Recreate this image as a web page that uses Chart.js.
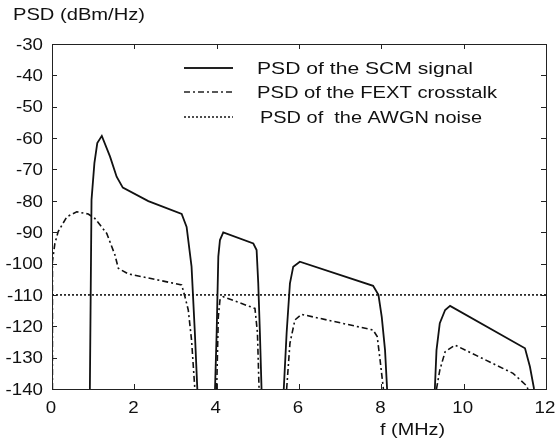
<!DOCTYPE html>
<html><head><meta charset="utf-8">
<script src="https://cdn.jsdelivr.net/npm/chart.js@4/dist/chart.umd.min.js"></script>
<style>html,body{margin:0;padding:0;background:#fff}#wrap{width:559px;height:446px}</style>
</head><body><div id="wrap"><canvas id="c"></canvas></div>
<script>
// Frequency (MHz) and PSD (dBm/Hz); null separates the bands
const scmF   = [0.92,0.96,1.03,1.10,1.21,1.41,1.57,1.72,2.34,3.15,3.27,3.39,3.47,3.53, null,
                3.96,4.00,4.04,4.08,4.16,4.89,4.97,5.01,5.05,5.09, null,
                5.63,5.70,5.78,5.86,6.02,7.80,7.93,8.01,8.09,8.14, null,
                9.30,9.34,9.42,9.55,9.67,11.49,11.61,11.71];
const scmPSD = [-140,-79.7,-68,-61.6,-59.3,-65.9,-72.3,-75.8,-80.1,-84.2,-88.3,-101,-122,-140, null,
                -140,-122,-97.8,-92.5,-90.1,-93.6,-95.7,-106.3,-122,-140, null,
                -140,-122,-106.3,-101,-99.4,-107.1,-110,-117,-127.6,-140, null,
                -140,-127.6,-119,-114.8,-113.5,-127,-132.9,-140];
const fextF   = [0.01,0.01,0.07,0.15,0.36,0.60,0.88,1.04,1.33,1.53,1.61,1.85,3.15,3.23,3.31,3.39,3.47, null,
                 4.00,4.04,4.08,4.16,4.93,4.99,5.03, null,
                 5.70,5.78,5.90,6.06,7.80,7.90,7.97,8.05, null,
                 9.34,9.42,9.55,9.79,11.20,11.53,11.56];
const fextPSD = [-140,-99.4,-93.6,-89.8,-85.1,-83.5,-84.2,-85.6,-90.4,-97.3,-101.5,-103.3,-106.8,-110.6,-114.8,-124.4,-140, null,
                 -140,-117,-111.6,-110.6,-114.3,-122,-140, null,
                 -140,-125.4,-118,-116.2,-121.2,-123.3,-130.8,-140, null,
                 -140,-134,-128.1,-126,-135,-139,-140];
const awgnF   = [0, 12];
const awgnPSD = [-110, -110];
const seriesNames = ['PSD of the SCM signal', 'PSD of the FEXT crosstalk', 'PSD of  the AWGN noise'];
const xTicks = [0, 2, 4, 6, 8, 10, 12];
const yTicks = [-30, -40, -50, -60, -70, -80, -90, -100, -110, -120, -130, -140];

const pts = (xs, ys) => xs.map((x, i) => x === null ? {x: NaN, y: null} : {x: x, y: ys[i]});
const FONT = '"Liberation Sans", Arial, sans-serif';

const styles = [
  {borderColor: '#111', borderWidth: 1.8, borderDash: []},
  {borderColor: '#111', borderWidth: 1.6, borderDash: [6, 3, 2, 3]},
  {borderColor: '#111', borderWidth: 1.6, borderDash: [2, 2]}
];

// draw text horizontally stretched by factor sx, anchored at x with given alignment
function txt(ctx, s, x, y, align, sx) {
  const w = ctx.measureText(s).width * sx;
  let left = align === 'left' ? x : align === 'right' ? x - w : x - w / 2;
  ctx.save();
  ctx.translate(left, y);
  ctx.scale(sx, 1);
  ctx.textAlign = 'left';
  ctx.fillText(s, 0, 0);
  ctx.restore();
}
// stretch text to a target width
function txtW(ctx, s, left, y, width) {
  txt(ctx, s, left, y, 'left', width / ctx.measureText(s).width);
}

const deco = {
  id: 'deco',
  afterDraw(chart) {
    const ctx = chart.ctx, a = chart.chartArea, xs = chart.scales.x, ys = chart.scales.y;
    ctx.save();
    ctx.strokeStyle = '#222'; ctx.lineWidth = 1; ctx.setLineDash([]);
    ctx.strokeRect(a.left + 0.5, a.top + 0.5, a.right - a.left, a.bottom - a.top);
    ctx.beginPath();
    xTicks.forEach(v => {
      const px = Math.round(xs.getPixelForValue(v)) + 0.5;
      ctx.moveTo(px, a.bottom); ctx.lineTo(px, a.bottom - 5);
      ctx.moveTo(px, a.top); ctx.lineTo(px, a.top + 5);
    });
    yTicks.forEach(v => {
      const py = Math.round(ys.getPixelForValue(v)) + 0.5;
      ctx.moveTo(a.left, py); ctx.lineTo(a.left + 5, py);
      ctx.moveTo(a.right, py); ctx.lineTo(a.right - 5, py);
    });
    ctx.stroke();

    ctx.fillStyle = '#111'; ctx.font = '17px ' + FONT; ctx.textBaseline = 'middle';
    // tick labels
    xTicks.forEach(v => txt(ctx, String(v), xs.getPixelForValue(v) - 1, a.bottom + 19, 'center', 1.1));
    yTicks.forEach(v => txt(ctx, String(v), a.left - 9, ys.getPixelForValue(v) + 1, 'right', 1.1));
    // axis titles
    txtW(ctx, 'PSD (dBm/Hz)', 13, 15, 132);
    txtW(ctx, 'f (MHz)', 380, 430, 65);
    // legend
    const rows = [68, 92, 117], tx = [257, 257, 260], tw = [216, 240, 222];
    styles.forEach((s, i) => {
      ctx.beginPath();
      ctx.lineWidth = s.borderWidth; ctx.setLineDash(s.borderDash);
      ctx.moveTo(184, rows[i]); ctx.lineTo(233, rows[i]); ctx.stroke();
      ctx.setLineDash([]);
      txtW(ctx, seriesNames[i], tx[i], rows[i] + 1, tw[i]);
    });
    ctx.restore();
  }
};

new Chart(document.getElementById('c'), {
  type: 'line',
  data: {
    datasets: [
      Object.assign({label: seriesNames[0], data: pts(scmF, scmPSD)}, styles[0]),
      Object.assign({label: seriesNames[1], data: pts(fextF, fextPSD)}, styles[1]),
      Object.assign({label: seriesNames[2], data: pts(awgnF, awgnPSD)}, styles[2])
    ].map(d => Object.assign(d, {pointRadius: 0, tension: 0, spanGaps: false, fill: false}))
  },
  options: {
    responsive: true, maintainAspectRatio: false, animation: false,
    layout: {padding: {left: 0, right: 13, top: 44, bottom: 0}},
    plugins: {legend: {display: false}, tooltip: {enabled: false}},
    scales: {
      x: {
        type: 'linear', min: 0, max: 12,
        afterBuildTicks: s => { s.ticks = xTicks.map(v => ({value: v})); },
        afterFit: s => { s.height = 57; },
        grid: {display: false, drawTicks: false}, border: {display: false},
        ticks: {display: false}
      },
      y: {
        type: 'linear', min: -140, max: -30,
        afterBuildTicks: s => { s.ticks = yTicks.map(v => ({value: v})); },
        afterFit: s => { s.width = 52; },
        grid: {display: false, drawTicks: false}, border: {display: false},
        ticks: {display: false}
      }
    }
  },
  plugins: [deco]
});
</script></body></html>
